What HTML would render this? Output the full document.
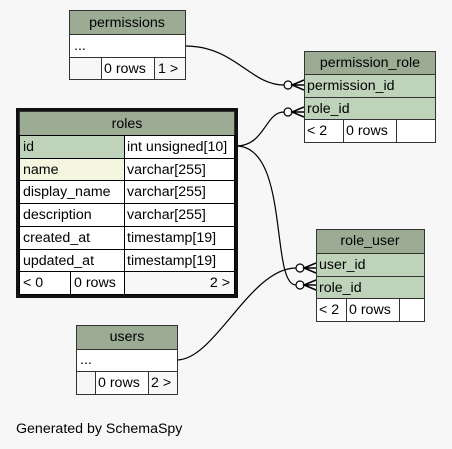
<!DOCTYPE html>
<html><head><style>
html,body{margin:0;padding:0;background:#f7f7f7;}
svg{display:block}
text{font-family:"Liberation Sans",sans-serif;font-size:14.2px;fill:#000}
</style></head><body>
<svg width="452" height="449" xmlns="http://www.w3.org/2000/svg">
<rect width="452" height="449" fill="#f7f7f7"/>
<g stroke="#000" stroke-width="1.2" fill="none">
<path d="M185,46 C235,46 250,85 284,85"/>
<path d="M236,146 C265,146 265,112 284,112"/>
<path d="M236,146 C290,146 270,285 296,285"/>
<path d="M177,360 C215,360 250,268 296,268"/>
</g>
<g stroke="#000" stroke-width="1.2" fill="#fff">
<circle cx="288" cy="85" r="4"/><circle cx="288" cy="112" r="4"/>
<circle cx="300" cy="268" r="4"/><circle cx="300" cy="285" r="4"/>
</g>
<g stroke="#000" stroke-width="1.5" fill="none">
<path d="M304,80 L292,85 L304,90 M292,85 L304,85"/>
<path d="M304,107 L292,112 L304,117 M292,112 L304,112"/>
<path d="M316,263 L304,268 L316,273 M304,268 L316,268"/>
<path d="M316,280 L304,285 L316,290 M304,285 L316,285"/>
</g>
<g stroke="#333" stroke-width="1">
<rect x="69.5" y="10.5" width="116" height="24" fill="#9cab94"/>
<rect x="69.5" y="34.5" width="116" height="23" fill="#fff"/>
<rect x="69.5" y="57.5" width="116" height="22" fill="#f7f7f7"/>
<rect x="101.5" y="57.5" width="53" height="22" fill="#fff"/>
<rect x="304.5" y="51.5" width="131" height="23" fill="#9cab94"/>
<rect x="304.5" y="74.5" width="131" height="23" fill="#bfd3ba"/>
<rect x="304.5" y="97.5" width="131" height="22" fill="#bfd3ba"/>
<rect x="304.5" y="119.5" width="131" height="23" fill="#fff"/>
<line x1="343.5" y1="119.5" x2="343.5" y2="142.5"/>
<line x1="396.5" y1="119.5" x2="396.5" y2="142.5"/>
<rect x="316.5" y="229.5" width="108" height="24" fill="#9cab94"/>
<rect x="316.5" y="253.5" width="108" height="23" fill="#bfd3ba"/>
<rect x="316.5" y="276.5" width="108" height="22" fill="#bfd3ba"/>
<rect x="316.5" y="298.5" width="108" height="23" fill="#fff"/>
<line x1="346.5" y1="298.5" x2="346.5" y2="321.5"/>
<line x1="399.5" y1="298.5" x2="399.5" y2="321.5"/>
<rect x="76.5" y="325.5" width="101" height="24" fill="#9cab94"/>
<rect x="76.5" y="349.5" width="101" height="22" fill="#fff"/>
<rect x="76.5" y="371.5" width="101" height="23" fill="#f7f7f7"/>
<rect x="95.5" y="371.5" width="53" height="23" fill="#fff"/>
</g>
<rect x="17.5" y="109.5" width="219" height="187" fill="#fff" stroke="#111" stroke-width="3"/>
<g stroke="#000" stroke-width="1">
<rect x="19.5" y="111.5" width="215" height="24" fill="#9cab94" stroke="#333"/>
<rect x="19.5" y="135.5" width="105" height="23" fill="#bfd3ba"/>
<rect x="124.5" y="135.5" width="110" height="23" fill="#fff"/>
<rect x="19.5" y="158.5" width="105" height="22" fill="#f4f6df"/>
<rect x="124.5" y="158.5" width="110" height="22" fill="#fff"/>
<rect x="19.5" y="180.5" width="105" height="23" fill="#fff"/>
<rect x="124.5" y="180.5" width="110" height="23" fill="#fff"/>
<rect x="19.5" y="203.5" width="105" height="23" fill="#fff"/>
<rect x="124.5" y="203.5" width="110" height="23" fill="#fff"/>
<rect x="19.5" y="226.5" width="105" height="23" fill="#fff"/>
<rect x="124.5" y="226.5" width="110" height="23" fill="#fff"/>
<rect x="19.5" y="249.5" width="105" height="22" fill="#fff"/>
<rect x="124.5" y="249.5" width="110" height="22" fill="#fff"/>
<rect x="19.5" y="271.5" width="51" height="23" fill="#fff"/>
<rect x="70.5" y="271.5" width="54" height="23" fill="#fff"/>
<rect x="124.5" y="271.5" width="110" height="23" fill="#f7f7f7"/>
</g>
<text x="127" y="27" text-anchor="middle">permissions</text>
<text x="74" y="50">...</text>
<text x="104" y="73">0 rows</text>
<text x="158" y="73">1 &gt;</text>
<text x="127" y="128" text-anchor="middle">roles</text>
<text x="23" y="151">id</text><text x="127" y="151">int unsigned[10]</text>
<text x="23" y="174">name</text><text x="127" y="174">varchar[255]</text>
<text x="23" y="196">display_name</text><text x="127" y="196">varchar[255]</text>
<text x="23" y="219">description</text><text x="127" y="219">varchar[255]</text>
<text x="23" y="242">created_at</text><text x="127" y="242">timestamp[19]</text>
<text x="23" y="265">updated_at</text><text x="127" y="265">timestamp[19]</text>
<text x="23" y="287">&lt; 0</text><text x="74" y="287">0 rows</text><text x="230" y="287" text-anchor="end">2 &gt;</text>
<text x="370" y="67" text-anchor="middle">permission_role</text>
<text x="307" y="90">permission_id</text>
<text x="307" y="113">role_id</text>
<text x="307" y="135">&lt; 2</text><text x="346" y="135">0 rows</text>
<text x="370" y="245" text-anchor="middle">role_user</text>
<text x="319" y="269">user_id</text>
<text x="319" y="292">role_id</text>
<text x="319" y="314">&lt; 2</text><text x="349" y="314">0 rows</text>
<text x="127" y="341" text-anchor="middle">users</text>
<text x="80" y="364">...</text>
<text x="98" y="387">0 rows</text><text x="151" y="387">2 &gt;</text>
<text x="16" y="433">Generated by SchemaSpy</text>
</svg>
</body></html>
